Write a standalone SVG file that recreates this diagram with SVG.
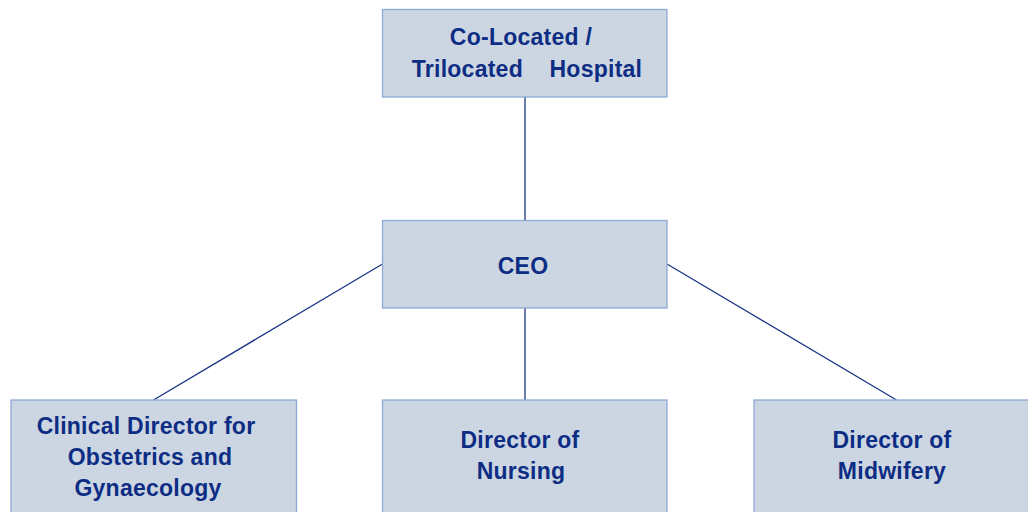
<svg xmlns="http://www.w3.org/2000/svg" width="1028" height="512" viewBox="0 0 1028 512">
<style>
.box{fill:#ccd6e2;stroke:#8eaad6;stroke-width:1.3}
.t{font-family:"Liberation Sans",Arial,sans-serif;font-weight:bold;font-size:23px;fill:#0d2d84;letter-spacing:0.25px;text-anchor:middle;white-space:pre}
.c{stroke:#1a3585;stroke-width:1.3;fill:none}
</style>
<rect width="1028" height="512" fill="#ffffff"/>
<g id="connectors">
<line class="c" x1="525" y1="97" x2="525" y2="220.5"/>
<line class="c" x1="382.5" y1="264" x2="153.5" y2="400"/>
<line class="c" x1="667" y1="264" x2="896.5" y2="400"/>
<line class="c" x1="525" y1="308" x2="525" y2="400"/>
</g>
<g id="hospital">
<rect class="box" x="382.5" y="9.5" width="284.5" height="87.5"/>
<text class="t" x="521" y="45">Co-Located /</text>
<text class="t" x="527" y="77" xml:space="preserve">Trilocated    Hospital</text>
</g>
<g id="ceo">
<rect class="box" x="382.5" y="220.5" width="284.5" height="87.5"/>
<text class="t" x="523" y="274">CEO</text>
</g>
<g id="clinical-director">
<rect class="box" x="11" y="400" width="285.5" height="120"/>
<text class="t" x="146" y="434">Clinical Director for</text>
<text class="t" x="150" y="465">Obstetrics and</text>
<text class="t" x="148" y="496">Gynaecology</text>
</g>
<g id="director-nursing">
<rect class="box" x="382.5" y="400" width="284.5" height="120"/>
<text class="t" x="520" y="448">Director of</text>
<text class="t" x="521" y="479">Nursing</text>
</g>
<g id="director-midwifery">
<rect class="box" x="754" y="400" width="290" height="120"/>
<text class="t" x="892" y="448">Director of</text>
<text class="t" x="892" y="479">Midwifery</text>
</g>
</svg>
